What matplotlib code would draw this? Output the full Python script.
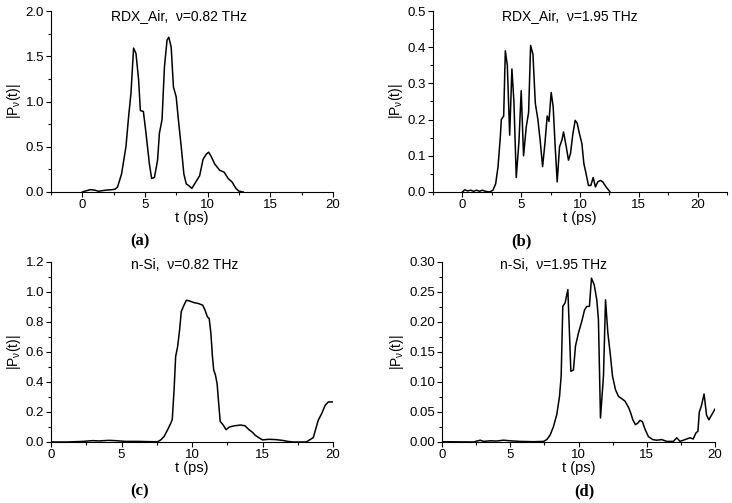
import matplotlib.pyplot as plt
from matplotlib.ticker import MultipleLocator

plt.rcParams['font.family'] = ['Liberation Sans', 'DejaVu Sans']

# (a) RDX_Air, 0.82 THz
t_a = [0, 0.35, 0.67, 1.0, 1.3, 1.6, 2.0, 2.3, 2.6, 2.81, 3.13, 3.48, 3.69, 3.88, 4.09,
       4.28, 4.49, 4.63, 4.87, 5.08, 5.35, 5.53, 5.75, 6.0, 6.15, 6.36, 6.55, 6.76,
       6.9, 7.09, 7.27, 7.49, 7.67, 7.89, 8.1, 8.29, 8.5, 8.74, 8.96, 9.36, 9.63,
       9.9, 10.08, 10.29, 10.56, 10.96, 11.31, 11.63, 11.95, 12.25, 12.49, 12.83]
p_a = [0, 0.015, 0.026, 0.02, 0.008, 0.015, 0.022, 0.025, 0.03, 0.055, 0.2, 0.5, 0.83,
       1.09, 1.59, 1.53, 1.24, 0.9, 0.89, 0.65, 0.31, 0.15, 0.16, 0.35, 0.65, 0.8, 1.38,
       1.68, 1.71, 1.6, 1.16, 1.05, 0.79, 0.5, 0.2, 0.09, 0.07, 0.04, 0.09, 0.18, 0.36,
       0.42, 0.44, 0.39, 0.31, 0.24, 0.22, 0.15, 0.11, 0.04, 0.01, 0]

# (b) RDX_Air, 1.95 THz
t_b = [0, 0.2, 0.45, 0.7, 0.95, 1.2, 1.45, 1.7, 1.95, 2.32, 2.6, 2.83, 3.03, 3.22,
       3.31, 3.51, 3.65, 3.82, 4.02, 4.21, 4.38, 4.58, 4.81, 5.0, 5.2, 5.43, 5.63, 5.8,
       6.0, 6.2, 6.42, 6.62, 6.82, 7.02, 7.21, 7.36, 7.55, 7.72, 7.89, 8.06, 8.26,
       8.46, 8.6, 8.83, 9.02, 9.19, 9.39, 9.59, 9.76, 9.96, 10.16, 10.33, 10.52, 10.72,
       10.92, 11.12, 11.31, 11.51, 11.74, 11.93, 12.22, 12.56]
p_b = [0, 0.006, 0.003, 0.005, 0.002, 0.005, 0.002, 0.005, 0.002, 0.0, 0.005, 0.023,
       0.07, 0.15, 0.2, 0.21, 0.39, 0.35, 0.157, 0.34, 0.25, 0.04, 0.14, 0.28, 0.1,
       0.18, 0.22, 0.405, 0.38, 0.245, 0.2, 0.14, 0.07, 0.135, 0.21, 0.195, 0.275,
       0.235, 0.125, 0.028, 0.125, 0.143, 0.166, 0.125, 0.088, 0.106, 0.16, 0.198,
       0.19, 0.16, 0.134, 0.078, 0.05, 0.018, 0.018, 0.04, 0.014, 0.028, 0.032, 0.028,
       0.014, 0.0]

# (c) n-Si, 0.82 THz
t_c = [0, 1.1, 2.26, 2.96, 3.4, 4.1, 4.57, 5.27, 6.19, 7.1, 7.57, 7.8, 8.03, 8.27, 8.5,
       8.6, 8.73, 8.84, 8.98, 9.12, 9.24, 9.42, 9.6, 9.84, 10.11, 10.46, 10.76, 10.92,
       11.09, 11.22, 11.34, 11.45, 11.54, 11.66, 11.78, 11.89, 12.0, 12.2, 12.42,
       12.65, 13.0, 13.46, 13.76, 14.04, 14.3, 14.49, 14.77, 15.0, 15.46, 15.92, 16.4,
       16.8, 17.18, 18.1, 18.6, 18.95, 19.2, 19.44, 19.67, 19.98]
p_c = [0.0, 0.0, 0.004, 0.009, 0.007, 0.011, 0.009, 0.004, 0.004, 0.002, 0.002, 0.015,
       0.038, 0.082, 0.126, 0.15, 0.35, 0.57, 0.635, 0.746, 0.87, 0.91, 0.945, 0.94,
       0.93, 0.923, 0.912, 0.88, 0.835, 0.823, 0.724, 0.569, 0.48, 0.447, 0.39, 0.26,
       0.137, 0.115, 0.082, 0.1, 0.108, 0.113, 0.108, 0.082, 0.064, 0.044, 0.027,
       0.014, 0.018, 0.016, 0.011, 0.004, 0.0, 0.0, 0.029, 0.144, 0.19, 0.244, 0.267,
       0.267]

# (d) n-Si, 1.95 THz
t_d = [0, 2.3, 2.8, 3.05, 3.54, 4.0, 4.5, 5.0, 5.7, 6.7, 7.44, 7.68, 7.93, 8.17, 8.41,
       8.61, 8.73, 8.85, 9.02, 9.22, 9.44, 9.63, 9.78, 10.0, 10.24, 10.44, 10.61, 10.8,
       10.95, 11.15, 11.34, 11.46, 11.61, 11.83, 11.98, 12.15, 12.32, 12.49, 12.71,
       12.93, 13.12, 13.41, 13.68, 13.83, 13.98, 14.17, 14.32, 14.51, 14.68, 14.88,
       15.12, 15.44, 15.73, 16.1, 16.46, 16.95, 17.2, 17.44, 17.8, 18.17, 18.4, 18.6,
       18.75, 18.85, 19.0, 19.2, 19.38, 19.55, 20.0]
p_d = [0.0005, 0.0, 0.003, 0.001, 0.002, 0.0016, 0.003, 0.002, 0.001, 0.0005, 0.001,
       0.004, 0.012, 0.026, 0.046, 0.076, 0.11, 0.226, 0.232, 0.254, 0.118, 0.12, 0.16,
       0.182, 0.201, 0.22, 0.226, 0.226, 0.273, 0.262, 0.237, 0.204, 0.04, 0.11, 0.237,
       0.182, 0.148, 0.11, 0.087, 0.076, 0.073, 0.068, 0.057, 0.048, 0.037, 0.029,
       0.031, 0.036, 0.034, 0.021, 0.009, 0.004, 0.003, 0.004, 0.001, 0.001, 0.007,
       0.001, 0.004, 0.007, 0.005, 0.015, 0.018, 0.05, 0.06, 0.08, 0.045, 0.037, 0.055]

titles = ["RDX_Air,  \u03bd=0.82 THz", "RDX_Air,  \u03bd=1.95 THz",
          "n-Si,  \u03bd=0.82 THz", "n-Si,  \u03bd=1.95 THz"]
panel_labels = ["(a)", "(b)", "(c)", "(d)"]

W, H = 732, 503
fig = plt.figure(figsize=(W / 100, H / 100), dpi=100)


def px_axes(left, right, top, bottom):
    return fig.add_axes([left / W, 1 - bottom / H, (right - left) / W, (bottom - top) / H])


axes = [px_axes(51, 333, 11, 192), px_axes(433, 727, 11, 192),
        px_axes(51, 333, 262, 442), px_axes(442, 715, 262, 442)]
data = [(t_a, p_a), (t_b, p_b), (t_c, p_c), (t_d, p_d)]
xlims = [(-2.5, 20), (-2.5, 22.5), (0, 20), (0, 20)]
ylims = [(0, 2.0), (0, 0.5), (0, 1.2), (0, 0.30)]
ymaj = [0.5, 0.1, 0.2, 0.05]
yfmt = ["%.1f", "%.1f", "%.1f", "%.2f"]
title_x = [179, 570, 185, 553]
label_pos = [(140, 241), (521, 241), (140, 491), (584, 491)]

for i, ax in enumerate(axes):
    t, p = data[i]
    ax.plot(t, p, color="black", lw=1.1)
    ax.set_xlim(*xlims[i])
    ax.set_ylim(*ylims[i])
    ax.spines["top"].set_visible(False)
    ax.spines["right"].set_visible(False)
    ax.xaxis.set_major_locator(MultipleLocator(5))
    ax.xaxis.set_minor_locator(MultipleLocator(2.5))
    ax.yaxis.set_major_locator(MultipleLocator(ymaj[i]))
    ax.yaxis.set_minor_locator(MultipleLocator(ymaj[i] / 2))
    ax.yaxis.set_major_formatter(plt.FormatStrFormatter(yfmt[i]))
    ax.tick_params(which="major", direction="out", length=3.5, width=0.8, labelsize=9.5, pad=1.5)
    ax.tick_params(which="minor", direction="out", length=2, width=0.8)
    ax.set_xlabel("t (ps)", fontsize=10.5, labelpad=0)
    ax.set_ylabel("|P$_\\mathregular{\u03bd}$(t)|", fontsize=10, labelpad=2)
    fig.text(title_x[i] / W, 1 - 16 / H if i < 2 else 1 - 265 / H, titles[i],
             fontsize=10, ha="center", va="center")
    lx, ly = label_pos[i]
    fig.text(lx / W, 1 - ly / H, panel_labels[i], family="Liberation Serif",
             fontsize=12, fontweight="bold", ha="center", va="center")

fig.savefig("out.png", dpi=100)
